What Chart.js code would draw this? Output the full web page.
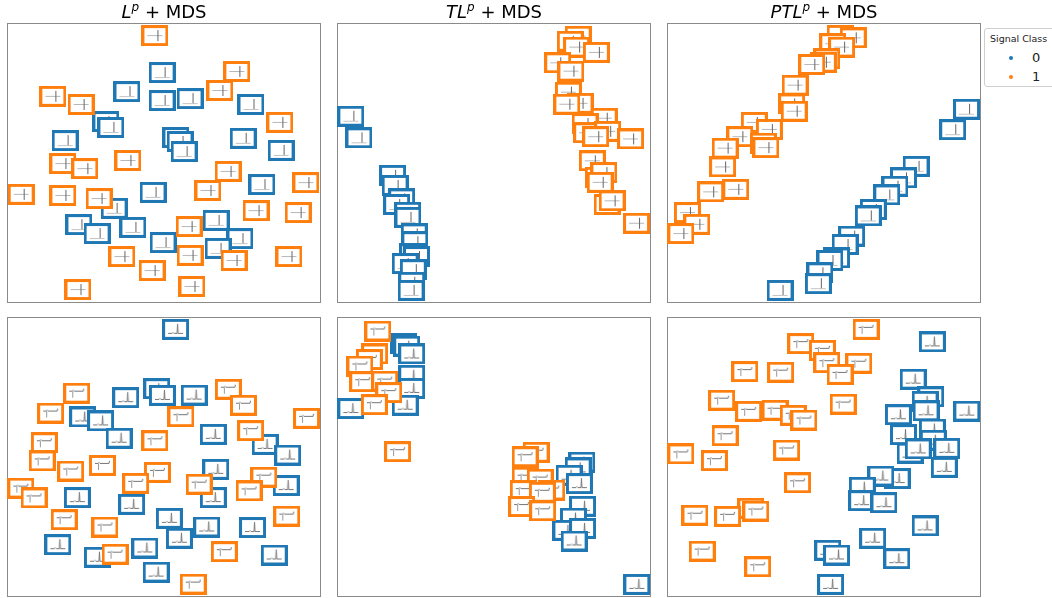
<!DOCTYPE html>
<html>
<head>
<meta charset="utf-8">
<script src="https://cdn.jsdelivr.net/npm/chart.js@4.4.1/dist/chart.umd.min.js"></script>
<style>
  body { margin: 0; width: 1052px; height: 598px; position: relative; overflow: hidden; background: #fff; font-family: "DejaVu Sans", sans-serif; }
  .panel { position: absolute; }
  .title { position: absolute; width: 314px; text-align: center; font-size: 18px; line-height: 22px; color: #000; white-space: nowrap; }
  .title sup { font-size: 12px; line-height: 0; vertical-align: 7px; }
  .legend { position: absolute; left: 984px; top: 28px; width: 80px; height: 57px; border: 1px solid #d0d0d0; border-radius: 3px; background: #fff; }
  .legend .lt { position: absolute; left: 5px; top: 4px; font-size: 9.5px; color: #222; white-space: nowrap; }
  .legend .row { position: absolute; left: 0; font-size: 13px; color: #222; }
  .legend .dot { position: absolute; left: 24px; width: 4px; height: 4px; border-radius: 50%; }
  .legend .lab { position: absolute; left: 47px; }
</style>
</head>
<body>
<script>
// class labels and titles
const classLabels = ["0", "1"];
const classColors = ["#1f77b4", "#ff7f0e"];
const panelTitles = [
  ["L", "p", " + MDS"],
  ["TL", "p", " + MDS"],
  ["PTL", "p", " + MDS"]
];

// MDS embeddings, scaled to 0..100 per panel
// top row
const lpClass0 = [[49.4,82.3],[38.2,75.5],[49.4,72.3],[58.3,73.0],[77.7,70.9],[31.5,64.8],[33.1,62.7],[18.5,58.0],[53.8,59.1],[55.1,57.7],[75.2,58.8],[56.4,54.1],[87.3,54.5],[46.5,39.5],[81.2,42.3],[34.1,33.8],[22.9,28.0],[28.7,24.8],[40.1,27.0],[66.6,29.5],[74.2,23.0],[49.7,21.6],[67.2,19.5]];
const lpClass1 = [[47.1,95.5],[73.2,82.7],[14.6,73.8],[67.8,75.9],[23.6,70.9],[86.9,64.5],[17.8,49.8],[24.8,48.0],[38.5,50.9],[70.4,47.0],[4.5,38.8],[17.8,38.4],[29.3,37.3],[64.0,40.2],[95.2,43.0],[92.7,32.3],[79.3,33.0],[58.0,27.3],[36.6,16.6],[58.3,17.0],[72.3,15.2],[46.2,11.6],[89.8,16.6],[22.6,4.8],[58.9,5.9]];
const tlClass0 = [[4.4,66.7],[7.0,59.0],[17.7,45.6],[18.5,42.0],[20.6,37.2],[19.0,35.2],[22.5,32.4],[22.6,30.6],[24.6,24.7],[24.8,21.9],[24.1,17.6],[25.3,16.6],[21.7,14.1],[24.3,11.9],[23.8,7.4],[23.6,4.5]];
const tlClass1 = [[76.8,95.3],[74.3,93.5],[76.3,91.4],[82.6,89.5],[70.3,85.8],[74.5,82.8],[73.7,75.3],[77.4,71.3],[73.2,71.0],[85.1,66.0],[79.0,64.1],[79.5,60.8],[86.2,61.3],[82.4,59.4],[93.5,58.6],[81.3,50.8],[83.2,44.9],[85.0,46.6],[83.8,43.1],[86.0,35.2],[87.6,36.5],[95.4,28.5]];
const ptlClass0 = [[95.4,69.2],[91.0,61.9],[79.3,48.8],[75.3,44.7],[72.6,41.7],[70.0,38.6],[65.7,33.4],[64.1,31.1],[58.8,23.9],[56.7,20.9],[54.0,16.1],[51.9,15.2],[48.7,10.8],[48.2,6.9],[36.0,4.5]];
const ptlClass1 = [[55.1,95.6],[59.3,94.7],[52.8,92.6],[55.6,91.4],[50.9,87.2],[49.8,86.0],[46.1,85.2],[40.8,77.8],[39.7,71.1],[40.5,68.5],[27.8,64.5],[32.6,62.0],[23.2,59.4],[30.7,57.1],[31.5,55.5],[18.5,55.3],[17.7,48.6],[13.9,39.7],[21.9,40.6],[6.5,32.3],[9.5,28.1],[4.4,24.8]];
// bottom row
const lpClass0b = [[53.7,95.6],[47.7,74.4],[49.5,72.0],[37.8,71.2],[59.6,72.1],[24.1,64.3],[29.8,62.9],[35.7,56.7],[65.7,58.1],[82.2,54.5],[89.4,50.7],[66.5,45.6],[88.9,39.8],[65.7,35.5],[22.4,35.5],[39.7,33.1],[51.7,28.1],[63.6,25.0],[78.2,24.8],[54.9,21.0],[16.2,18.7],[43.9,17.5],[28.8,14.2],[85.1,15.0],[47.5,8.9]];
const lpClass1b = [[22.2,72.8],[13.9,65.7],[70.5,74.2],[75.3,68.5],[95.4,63.8],[55.4,64.4],[47.1,55.8],[77.6,59.4],[11.9,55.1],[11.2,48.6],[30.4,47.0],[20.3,45.0],[47.9,44.5],[41.0,40.6],[61.2,40.3],[81.8,42.8],[77.1,37.9],[4.4,38.9],[8.6,35.4],[18.2,27.6],[31.2,25.0],[89.1,28.9],[34.4,15.3],[69.2,16.2],[59.3,4.6]];
const tlClass0b = [[21.2,90.5],[22.2,89.6],[23.8,86.8],[23.8,79.2],[23.8,74.5],[21.7,68.5],[4.4,67.3],[78.0,48.2],[76.8,46.1],[73.9,43.5],[77.2,40.5],[78.2,32.4],[75.3,28.2],[72.9,23.8],[78.2,24.5],[75.5,20.0],[95.5,4.5]];
const tlClass1b = [[13.0,95.0],[12.0,86.8],[10.3,84.8],[7.3,82.5],[8.2,76.9],[15.2,77.1],[16.5,73.0],[11.9,68.7],[19.3,51.9],[63.4,51.7],[59.9,50.1],[59.9,42.8],[64.7,42.1],[59.3,38.0],[68.4,38.2],[65.4,37.4],[58.8,32.3],[65.5,30.8]];
const ptlClass0b = [[84.5,91.1],[78.4,77.8],[84.0,71.5],[82.2,69.9],[95.5,66.4],[73.7,65.1],[82.5,66.5],[84.5,60.0],[75.3,58.0],[84.8,56.0],[89.1,53.1],[77.4,51.4],[80.0,52.9],[88.3,46.3],[73.3,42.3],[68.1,43.2],[62.2,39.2],[62.0,34.4],[69.1,33.7],[82.2,25.4],[65.5,21.0],[51.2,16.7],[54.0,15.0],[73.2,13.7],[52.1,4.5]];
const ptlClass1b = [[63.4,95.6],[42.6,90.5],[49.5,88.1],[61.1,83.5],[50.9,83.7],[55.1,79.5],[24.8,80.5],[36.2,80.3],[17.4,70.3],[26.0,66.3],[34.4,66.7],[40.2,64.9],[43.6,63.2],[56.1,68.9],[18.5,57.6],[4.4,51.1],[15.1,48.7],[38.1,52.5],[41.6,40.8],[26.7,31.7],[28.3,30.7],[19.3,28.8],[8.9,29.2],[11.2,16.4],[28.9,10.8]];

const panels = [
  { c0: lpClass0, c1: lpClass1, col: 0, row: 0 },
  { c0: tlClass0, c1: tlClass1, col: 1, row: 0 },
  { c0: ptlClass0, c1: ptlClass1, col: 2, row: 0 },
  { c0: lpClass0b, c1: lpClass1b, col: 0, row: 1 },
  { c0: tlClass0b, c1: tlClass1b, col: 1, row: 1 },
  { c0: ptlClass0b, c1: ptlClass1b, col: 2, row: 1 }
];

const colLeft = [7, 337, 667];
const rowTop = [22.5, 317];
const W = 314, H = 280, PAD = 16;

// little thumbnail used as marker
function makeMarker(cls, row) {
  const c = document.createElement("canvas");
  c.width = 27; c.height = 21;
  const g = c.getContext("2d");
  g.fillStyle = "#fff";
  g.fillRect(0, 0, 27, 21);
  g.lineWidth = 1;
  function line(pts, col) {
    g.strokeStyle = col;
    g.beginPath();
    g.moveTo(pts[0][0], pts[0][1]);
    for (let i = 1; i < pts.length; i++) g.lineTo(pts[i][0], pts[i][1]);
    g.stroke();
  }
  if (row === 0) {
    if (cls === 1) {
      line([[6, 10.5], [21, 10.5]], "#b8b8b8");
      line([[16.5, 5], [16.5, 16]], "#666");
    } else {
      line([[6, 15.5], [21, 15.5]], "#c4c4c4");
      line([[16.5, 5], [16.5, 15]], "#666");
    }
  } else {
    if (cls === 1) {
      line([[6, 8.5], [9, 8.5], [10, 7.5], [11, 8.5], [20, 8.5], [20.5, 6]], "#777");
      line([[9.5, 8.5], [9.5, 15]], "#999");
    } else {
      line([[6, 14.5], [10, 14.5], [11, 13.5], [12, 14.5], [15, 14.5], [15.5, 5], [16, 14.5], [21, 14.5]], "#777");
    }
  }
  g.strokeStyle = classColors[cls];
  g.lineWidth = 3;
  g.strokeRect(1.5, 1.5, 24, 18);
  return c;
}

const framePlugin = {
  id: "frame",
  beforeDatasetsDraw(chart) {
    const a = chart.chartArea;
    const ctx = chart.ctx;
    ctx.save();
    ctx.strokeStyle = "#8a8a8a";
    ctx.lineWidth = 1;
    ctx.strokeRect(Math.round(a.left) + 0.5, Math.round(a.top) + 0.5, Math.round(a.right - a.left) - 1, Math.round(a.bottom - a.top) - 1);
    ctx.restore();
  }
};

function toPoints(arr) {
  return arr.map(p => ({ x: p[0], y: p[1] }));
}

panels.forEach((p, i) => {
  const div = document.createElement("div");
  div.className = "panel";
  div.style.left = (colLeft[p.col] - PAD) + "px";
  div.style.top = (rowTop[p.row] - PAD) + "px";
  const cv = document.createElement("canvas");
  cv.width = W + 2 * PAD;
  cv.height = H + 2 * PAD;
  div.appendChild(cv);
  document.body.appendChild(div);

  new Chart(cv.getContext("2d"), {
    type: "scatter",
    data: {
      datasets: [
        {
          label: classLabels[1],
          data: toPoints(p.c1),
          pointStyle: makeMarker(1, p.row),
          order: 0,
          clip: false
        },
        {
          label: classLabels[0],
          data: toPoints(p.c0),
          pointStyle: makeMarker(0, p.row),
          order: 1,
          clip: false
        }
      ]
    },
    options: {
      responsive: false,
      animation: false,
      devicePixelRatio: 1,
      events: [],
      layout: { padding: PAD },
      plugins: { legend: { display: false }, tooltip: { enabled: false } },
      scales: {
        x: { display: false, min: 0, max: 100 },
        y: { display: false, min: 0, max: 100 }
      }
    },
    plugins: [framePlugin]
  });
});

// titles
panelTitles.forEach((t, i) => {
  const d = document.createElement("div");
  d.className = "title";
  d.style.left = colLeft[i] + "px";
  d.style.top = "1px";
  d.innerHTML = "<i>" + t[0] + "</i><sup><i>" + t[1] + "</i></sup>" + t[2];
  document.body.appendChild(d);
});

// legend
const lg = document.createElement("div");
lg.className = "legend";
let html = '<div class="lt">Signal Class</div>';
classLabels.forEach((l, i) => {
  const top = 21 + i * 19;
  html += '<div class="row" style="top:' + top + 'px"><div class="dot" style="top:6px;background:' + classColors[i] + '"></div><div class="lab">' + l + '</div></div>';
});
lg.innerHTML = html;
document.body.appendChild(lg);
</script>
</body>
</html>
